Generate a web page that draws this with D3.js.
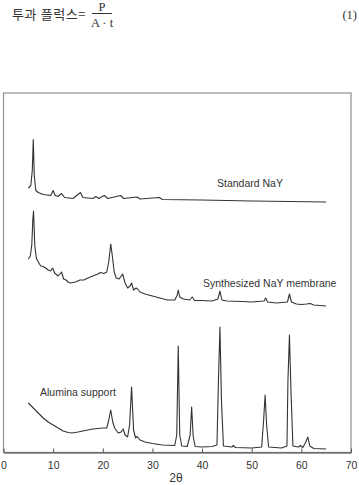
<!DOCTYPE html>
<html><head><meta charset="utf-8">
<script src="https://cdn.jsdelivr.net/npm/d3@7"></script>
<style>html,body{margin:0;padding:0;background:#fff;}svg{display:block;}</style>
</head><body>
<script>
// 2θ (degrees) and relative intensity (arbitrary units)
const standardNaY = [[5.0,264.5],[5.5,267],[5.8,282],[6.0,313],[6.2,277],[6.5,262],[7,260],[8,258],[9.5,257],[10,262],[10.4,257],[11,256],[11.7,259],[12.3,255],[14,254],[15.5,260],[16,255],[18,254],[18.6,256],[19.2,254],[20.3,257],[21,254],[23.6,257],[24.2,254],[26.9,255.5],[27.5,253.5],[31.4,255],[32,253],[40,252.5],[50,251.5],[65,250.5]];
const membraneNaY = [[5.0,193.5],[5.4,196.5],[5.7,207.5],[5.9,232.5],[6.05,241.5],[6.3,207.5],[6.6,194.5],[7.0,190.5],[7.5,186.5],[8.0,186],[8.5,184.5],[9.0,182.5],[9.5,181.5],[9.9,184.5],[10.3,179.5],[11.0,176.5],[11.7,180.5],[12.1,173.5],[12.6,172.5],[13.0,170.5],[13.5,169.5],[14.5,170.5],[15.4,172.5],[16.2,172.5],[17,174.5],[18,176.5],[19,178.5],[19.5,180],[20.2,179],[20.8,180.5],[21.2,190.5],[21.6,208.5],[21.9,197.5],[22.3,180.5],[22.7,174.5],[23.3,173.5],[24.0,178.5],[24.5,169.5],[25.0,164.5],[25.5,166.5],[25.8,169.5],[26.2,162.5],[26.7,164.5],[27.0,163.5],[27.5,160.5],[28.5,158.5],[30,156.5],[31.5,154.5],[33,152.5],[34.5,152.5],[35.0,157.5],[35.2,162.5],[35.5,155.5],[36.2,153.5],[37.5,152.5],[38.0,155.5],[38.5,152],[40,152],[42,151.5],[43.2,153.5],[43.6,161.5],[44.0,152.5],[45,151.5],[48,151],[50,150.5],[52.5,151.5],[52.8,154.5],[53.2,150.5],[55,149.5],[57.2,150.5],[57.6,158.5],[58.0,150.5],[59,148.5],[60,148],[61,148.5],[61.8,149],[62.5,147.5],[65,146.5]];
const alumina = [[5.0,49.5],[6.0,44.5],[7.0,39.5],[8.0,34.5],[9.0,30.5],[10.0,27.5],[11.0,24.5],[12.0,21.5],[13.0,20],[13.8,19.5],[15.0,20.5],[16.0,21.5],[17.0,22.5],[18.0,23.5],[19.0,24],[20.0,24.5],[20.8,24.5],[21.2,32.5],[21.6,42.5],[22.0,30.5],[22.4,24.5],[23.1,19.5],[23.7,20.5],[24.1,23.5],[24.5,17.5],[25.0,15.5],[25.4,27.5],[25.8,65.5],[26.2,22.5],[26.6,14.5],[26.9,16],[27.5,12.5],[28.5,10.5],[30,9],[32,7.5],[34.5,7],[34.9,17.5],[35.2,106.5],[35.5,17.5],[35.9,6.5],[37.0,6],[37.6,17.5],[37.9,45.5],[38.2,16.5],[38.6,6],[40,5.5],[42,6],[43.0,7.5],[43.3,72],[43.6,125.5],[43.9,52.5],[44.3,6.5],[46.0,5.5],[46.3,7],[46.7,5],[50,4.5],[52.0,5.5],[52.4,32.5],[52.7,57.5],[53.0,27.5],[53.4,5.5],[56,4.5],[57.1,6.5],[57.3,72.5],[57.6,117.5],[57.9,62.5],[58.3,6.5],[59.4,5.5],[59.8,7],[60.3,5],[60.9,10.5],[61.3,15.5],[61.7,6.5],[62.5,4],[65,3.5]];
const xTicks = [0,10,20,30,40,50,60,70];
const seriesLabels = ["Standard NaY","Synthesized NaY membrane","Alumina support"];
const xTitle = "2θ";

const W = 359, H = 485;
const svg = d3.select("body").append("svg").attr("width", W).attr("height", H);
const mLeft = 3.5, mRight = 351, mTop = 93, mBottom = 452.5;
const x = d3.scaleLinear().domain([0,70]).range([mLeft,mRight]);
const y = d3.scaleLinear().domain([0,360]).range([mBottom, mBottom-360]);

// equation header
const eq = svg.append("g").attr("font-family","'Noto Sans CJK KR', 'Noto Sans', sans-serif").attr("fill","#333");
eq.append("text").attr("x",12).attr("y",19).attr("font-size",13).attr("letter-spacing",0.6).text("투과 플럭스=");
eq.append("text").attr("x",102).attr("y",10.5).attr("font-size",12.5).attr("text-anchor","middle").attr("font-family","'Liberation Serif', serif").text("P");
eq.append("line").attr("x1",92).attr("x2",112).attr("y1",13.5).attr("y2",13.5).attr("stroke","#333").attr("stroke-width",1);
eq.append("text").attr("x",102).attr("y",27).attr("font-size",12.5).attr("text-anchor","middle").attr("font-family","'Liberation Serif', serif").text("A · t");
eq.append("text").attr("x",357).attr("y",18.5).attr("text-anchor","end").attr("font-size",12.5).attr("font-family","'Liberation Serif', serif").text("(1)");

// frame
svg.append("rect").attr("x",mLeft).attr("y",mTop).attr("width",mRight-mLeft).attr("height",mBottom-mTop)
  .attr("fill","none").attr("stroke","#999").attr("stroke-width",1.3);

// x axis
const ax = svg.append("g").attr("transform",`translate(0,${mBottom})`)
  .call(d3.axisBottom(x).tickValues(xTicks).tickSizeInner(-4).tickSizeOuter(0).tickPadding(9));
ax.select(".domain").attr("stroke","#444").attr("stroke-width",1.2);
ax.selectAll(".tick line").attr("stroke","#555");
ax.selectAll("text").attr("font-family","'Liberation Sans', Arial, sans-serif").attr("font-size",10.5).attr("fill","#333");

svg.append("text").attr("x",176).attr("y",482).attr("text-anchor","middle")
  .attr("font-family","'Liberation Sans', Arial, sans-serif").attr("font-size",12).attr("fill","#333").text(xTitle);

const line = d3.line().x(d=>x(d[0])).y(d=>y(d[1]));
[standardNaY, membraneNaY, alumina].forEach(s=>{
  svg.append("path").attr("d",line(s)).attr("fill","none").attr("stroke","#333").attr("stroke-width",1.1).attr("stroke-linejoin","round");
});

const lab = svg.append("g").attr("font-family","'Liberation Sans', Arial, sans-serif").attr("font-size",10.5).attr("fill","#333");
lab.append("text").attr("x",217).attr("y",187).text(seriesLabels[0]);
lab.append("text").attr("x",203).attr("y",287).text(seriesLabels[1]);
lab.append("text").attr("x",40).attr("y",396).text(seriesLabels[2]);
</script>
</body></html>
